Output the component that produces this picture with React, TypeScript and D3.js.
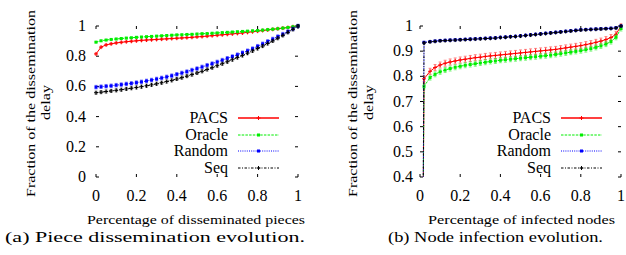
import * as d3 from "d3";

// x positions of the samples (fraction of pieces / nodes)
const pieceX = [0, 0.025, 0.05, 0.075, 0.1, 0.125, 0.15, 0.175, 0.2, 0.225, 0.25, 0.275, 0.3, 0.325, 0.35, 0.375, 0.4, 0.425, 0.45, 0.475, 0.5, 0.525, 0.55, 0.575, 0.6, 0.625, 0.65, 0.675, 0.7, 0.725, 0.75, 0.775, 0.8, 0.825, 0.85, 0.875, 0.9, 0.925, 0.95, 0.975, 1];
const piecePACS = [0.815, 0.86, 0.875, 0.882, 0.888, 0.892, 0.896, 0.899, 0.902, 0.905, 0.907, 0.909, 0.911, 0.913, 0.915, 0.917, 0.919, 0.921, 0.923, 0.925, 0.928, 0.93, 0.933, 0.936, 0.939, 0.942, 0.945, 0.948, 0.951, 0.954, 0.958, 0.962, 0.966, 0.97, 0.974, 0.978, 0.982, 0.986, 0.99, 0.995, 1];
const pieceOracle = [0.893, 0.902, 0.907, 0.911, 0.914, 0.917, 0.92, 0.922, 0.925, 0.927, 0.929, 0.931, 0.933, 0.935, 0.937, 0.939, 0.941, 0.942, 0.944, 0.945, 0.947, 0.949, 0.95, 0.952, 0.954, 0.956, 0.958, 0.96, 0.962, 0.964, 0.966, 0.968, 0.97, 0.973, 0.976, 0.979, 0.982, 0.986, 0.99, 0.995, 1];
const pieceRandom = [0.595, 0.598, 0.601, 0.604, 0.608, 0.612, 0.616, 0.62, 0.625, 0.63, 0.636, 0.642, 0.649, 0.656, 0.663, 0.671, 0.68, 0.689, 0.698, 0.708, 0.718, 0.729, 0.74, 0.751, 0.762, 0.774, 0.786, 0.798, 0.81, 0.823, 0.836, 0.85, 0.866, 0.882, 0.898, 0.914, 0.93, 0.946, 0.963, 0.981, 1];
const pieceSeq = [0.558, 0.562, 0.566, 0.57, 0.574, 0.578, 0.583, 0.588, 0.593, 0.598, 0.604, 0.61, 0.617, 0.624, 0.632, 0.64, 0.649, 0.658, 0.668, 0.678, 0.689, 0.7, 0.712, 0.724, 0.737, 0.75, 0.763, 0.777, 0.791, 0.805, 0.82, 0.835, 0.851, 0.867, 0.884, 0.901, 0.919, 0.938, 0.958, 0.978, 1];
const pieceErr = [0.006, 0.004, 0.012, 0.01];

const nodeX = [0.015, 0.02, 0.05, 0.075, 0.1, 0.125, 0.15, 0.175, 0.2, 0.225, 0.25, 0.275, 0.3, 0.325, 0.35, 0.375, 0.4, 0.425, 0.45, 0.475, 0.5, 0.525, 0.55, 0.575, 0.6, 0.625, 0.65, 0.675, 0.7, 0.725, 0.75, 0.775, 0.8, 0.825, 0.85, 0.875, 0.9, 0.925, 0.95, 0.975, 1];
const nodePACS = [0.2, 0.79, 0.82, 0.835, 0.845, 0.852, 0.857, 0.861, 0.865, 0.868, 0.871, 0.874, 0.876, 0.879, 0.881, 0.883, 0.885, 0.887, 0.889, 0.891, 0.893, 0.895, 0.897, 0.899, 0.901, 0.903, 0.905, 0.907, 0.91, 0.913, 0.916, 0.919, 0.922, 0.926, 0.93, 0.935, 0.94, 0.946, 0.954, 0.967, 1];
const nodeOracle = [0.2, 0.76, 0.795, 0.808, 0.818, 0.825, 0.831, 0.836, 0.84, 0.844, 0.847, 0.85, 0.853, 0.856, 0.859, 0.861, 0.864, 0.866, 0.868, 0.87, 0.872, 0.874, 0.876, 0.878, 0.88, 0.882, 0.884, 0.887, 0.89, 0.893, 0.896, 0.899, 0.902, 0.906, 0.91, 0.915, 0.921, 0.928, 0.938, 0.955, 0.99];
const nodeRandom = [0.2, 0.935, 0.938, 0.94, 0.942, 0.943, 0.944, 0.945, 0.946, 0.947, 0.948, 0.949, 0.95, 0.951, 0.952, 0.953, 0.955, 0.956, 0.958, 0.959, 0.961, 0.963, 0.965, 0.967, 0.969, 0.971, 0.973, 0.975, 0.977, 0.979, 0.981, 0.983, 0.985, 0.986, 0.987, 0.988, 0.989, 0.99, 0.991, 0.993, 1];
const nodeSeq = [0.2, 0.933, 0.937, 0.939, 0.941, 0.942, 0.943, 0.944, 0.945, 0.946, 0.947, 0.948, 0.949, 0.95, 0.951, 0.952, 0.954, 0.955, 0.957, 0.958, 0.96, 0.962, 0.964, 0.966, 0.968, 0.97, 0.972, 0.974, 0.976, 0.978, 0.98, 0.982, 0.984, 0.985, 0.986, 0.987, 0.988, 0.989, 0.99, 0.992, 1];
const nodeErr = [0.012, 0.01, 0.004, 0.004];

const seriesNames = ["PACS", "Oracle", "Random", "Seq"];
const xTicks = [0, 0.2, 0.4, 0.6, 0.8, 1];
const pieceYTicks = [0, 0.2, 0.4, 0.6, 0.8, 1];
const nodeYTicks = [0.4, 0.5, 0.6, 0.7, 0.8, 0.9, 1];

const styles = [
  { color: "#ff0000", dash: "none", marker: "plus" },
  { color: "#00ee00", dash: "2.5,1.2", marker: "square" },
  { color: "#0000ff", dash: "1,1.2", marker: "square" },
  { color: "#000000", dash: "2.5,1.5,1,1.5", marker: "plus" },
];

const FONT = "'Liberation Serif', 'DejaVu Serif', serif";

function Marker({ x, y, kind, color }: { x: number; y: number; kind: string; color: string }) {
  if (kind === "square") {
    return <rect x={x - 1.5} y={y - 1.5} width={3} height={3} fill={color} />;
  }
  return (
    <path d={`M${x - 2},${y}H${x + 2}M${x},${y - 2}V${y + 2}`} stroke={color} strokeWidth={1} />
  );
}

interface PanelProps {
  id: string;
  xs: number[];
  series: number[][];
  errs: number[];
  yDomain: [number, number];
  yTicks: number[];
  x0: number;
  x1: number;
  yLabelRight: number;
  titleX: [number, number];
  legendText: number;
  legendLine: [number, number];
  xTitle: string;
  xTitleX: [number, number];
  caption: string;
  captionX: [number, number];
}

function Panel(p: PanelProps) {
  const xScale = d3.scaleLinear().domain([0, 1]).range([p.x0, p.x1]);
  const yScale = d3.scaleLinear().domain(p.yDomain).range([177, 26]);
  const line = d3
    .line<[number, number]>()
    .x((d) => xScale(d[0]))
    .y((d) => yScale(d[1]));
  const [yb, yt] = yScale.range();
  const tl = 3;
  const fmt = (v: number) => (v === 0 || v === 1 ? String(v) : v.toFixed(1));
  const legendRows = [118, 135, 151, 168];

  return (
    <g>
      <defs>
        <clipPath id={`clip-${p.id}`}>
          <rect x={p.x0 - 2} y={yt - 3} width={p.x1 - p.x0 + 4} height={yb - yt + 3} />
        </clipPath>
      </defs>
      {/* ticks, mirrored on all sides, no border */}
      {p.yTicks.map((t) => (
        <g key={`y${t}`}>
          <line x1={p.x0} x2={p.x0 + tl} y1={yScale(t)} y2={yScale(t)} stroke="#000" />
          <line x1={p.x1 - tl} x2={p.x1} y1={yScale(t)} y2={yScale(t)} stroke="#000" />
          <text x={p.yLabelRight} y={yScale(t) + 5} textAnchor="end" fontSize={16} fontFamily={FONT}>
            {fmt(t)}
          </text>
        </g>
      ))}
      {xTicks.map((t) => (
        <g key={`x${t}`}>
          <line x1={xScale(t)} x2={xScale(t)} y1={yb} y2={yb - tl} stroke="#000" />
          <line x1={xScale(t)} x2={xScale(t)} y1={yt} y2={yt + tl} stroke="#000" />
          <text x={xScale(t)} y={201} textAnchor="middle" fontSize={16} fontFamily={FONT}>
            {fmt(t)}
          </text>
        </g>
      ))}
      {/* y title */}
      <text
        transform={`translate(${p.titleX[0]},197) rotate(-90)`}
        fontSize={13}
        fontFamily={FONT}
        textLength={187}
        lengthAdjust="spacingAndGlyphs"
      >
        Fraction of the dissemination
      </text>
      <text
        transform={`translate(${p.titleX[1]},120) rotate(-90)`}
        fontSize={13}
        fontFamily={FONT}
        textLength={35}
        lengthAdjust="spacingAndGlyphs"
      >
        delay
      </text>
      <text
        x={p.xTitleX[0]}
        y={224}
        fontSize={12}
        fontFamily={FONT}
        textLength={p.xTitleX[1] - p.xTitleX[0]}
        lengthAdjust="spacingAndGlyphs"
      >
        {p.xTitle}
      </text>
      <text
        x={p.captionX[0]}
        y={242}
        fontSize={15}
        fontFamily={FONT}
        textLength={p.captionX[1] - p.captionX[0]}
        lengthAdjust="spacingAndGlyphs"
      >
        {p.caption}
      </text>
      {/* series */}
      <g clipPath={`url(#clip-${p.id})`}>
        {p.series.map((vals, si) => {
          const st = styles[si];
          const pts = p.xs.map((x, i) => [x, vals[i]] as [number, number]);
          const e = p.errs[si];
          return (
            <g key={si}>
              {pts.map((d, i) => (
                <path
                  key={`e${i}`}
                  d={`M${xScale(d[0])},${yScale(d[1] - e)}V${yScale(d[1] + e)}M${xScale(d[0]) - 1.5},${yScale(d[1] - e)}h3M${xScale(d[0]) - 1.5},${yScale(d[1] + e)}h3`}
                  stroke={st.color}
                  strokeOpacity={0.45}
                  strokeWidth={1}
                  fill="none"
                />
              ))}
              <path d={line(pts) ?? ""} fill="none" stroke={st.color} strokeWidth={1} strokeDasharray={st.dash} />
              {pts.map((d, i) => (
                <Marker key={i} x={xScale(d[0])} y={yScale(d[1])} kind={st.marker} color={st.color} />
              ))}
            </g>
          );
        })}
      </g>
      {/* legend */}
      {seriesNames.map((name, i) => {
        const st = styles[i];
        const y = legendRows[i];
        return (
          <g key={name}>
            <text x={p.legendText} y={y + 5} textAnchor="end" fontSize={16} fontFamily={FONT}>
              {name}
            </text>
            <line
              x1={p.legendLine[0]}
              x2={p.legendLine[1]}
              y1={y}
              y2={y}
              stroke={i === 0 ? "#ff4040" : st.color}
              strokeWidth={i === 0 ? 1.8 : 1}
              strokeDasharray={st.dash}
            />
            <Marker x={(p.legendLine[0] + p.legendLine[1]) / 2} y={y} kind={st.marker} color={st.color} />
          </g>
        );
      })}
    </g>
  );
}

export default function App() {
  return (
    <svg width={626} height={255} style={{ position: "absolute", left: 0, top: 0, background: "#fff" }}>
      <Panel
        id="a"
        xs={pieceX}
        series={[piecePACS, pieceOracle, pieceRandom, pieceSeq]}
        errs={pieceErr}
        yDomain={[0, 1]}
        yTicks={pieceYTicks}
        x0={96}
        x1={298}
        yLabelRight={86}
        titleX={[35, 50]}
        legendText={228}
        legendLine={[238, 279]}
        xTitle="Percentage of disseminated pieces"
        xTitleX={[87, 305]}
        caption="(a) Piece dissemination evolution."
        captionX={[5, 305]}
      />
      <Panel
        id="b"
        xs={nodeX}
        series={[nodePACS, nodeOracle, nodeRandom, nodeSeq]}
        errs={nodeErr}
        yDomain={[0.4, 1]}
        yTicks={nodeYTicks}
        x0={420}
        x1={621}
        yLabelRight={413}
        titleX={[357, 373]}
        legendText={551}
        legendLine={[561, 602]}
        xTitle="Percentage of infected nodes"
        xTitleX={[428, 615]}
        caption="(b) Node infection evolution."
        captionX={[388, 603]}
      />
    </svg>
  );
}
